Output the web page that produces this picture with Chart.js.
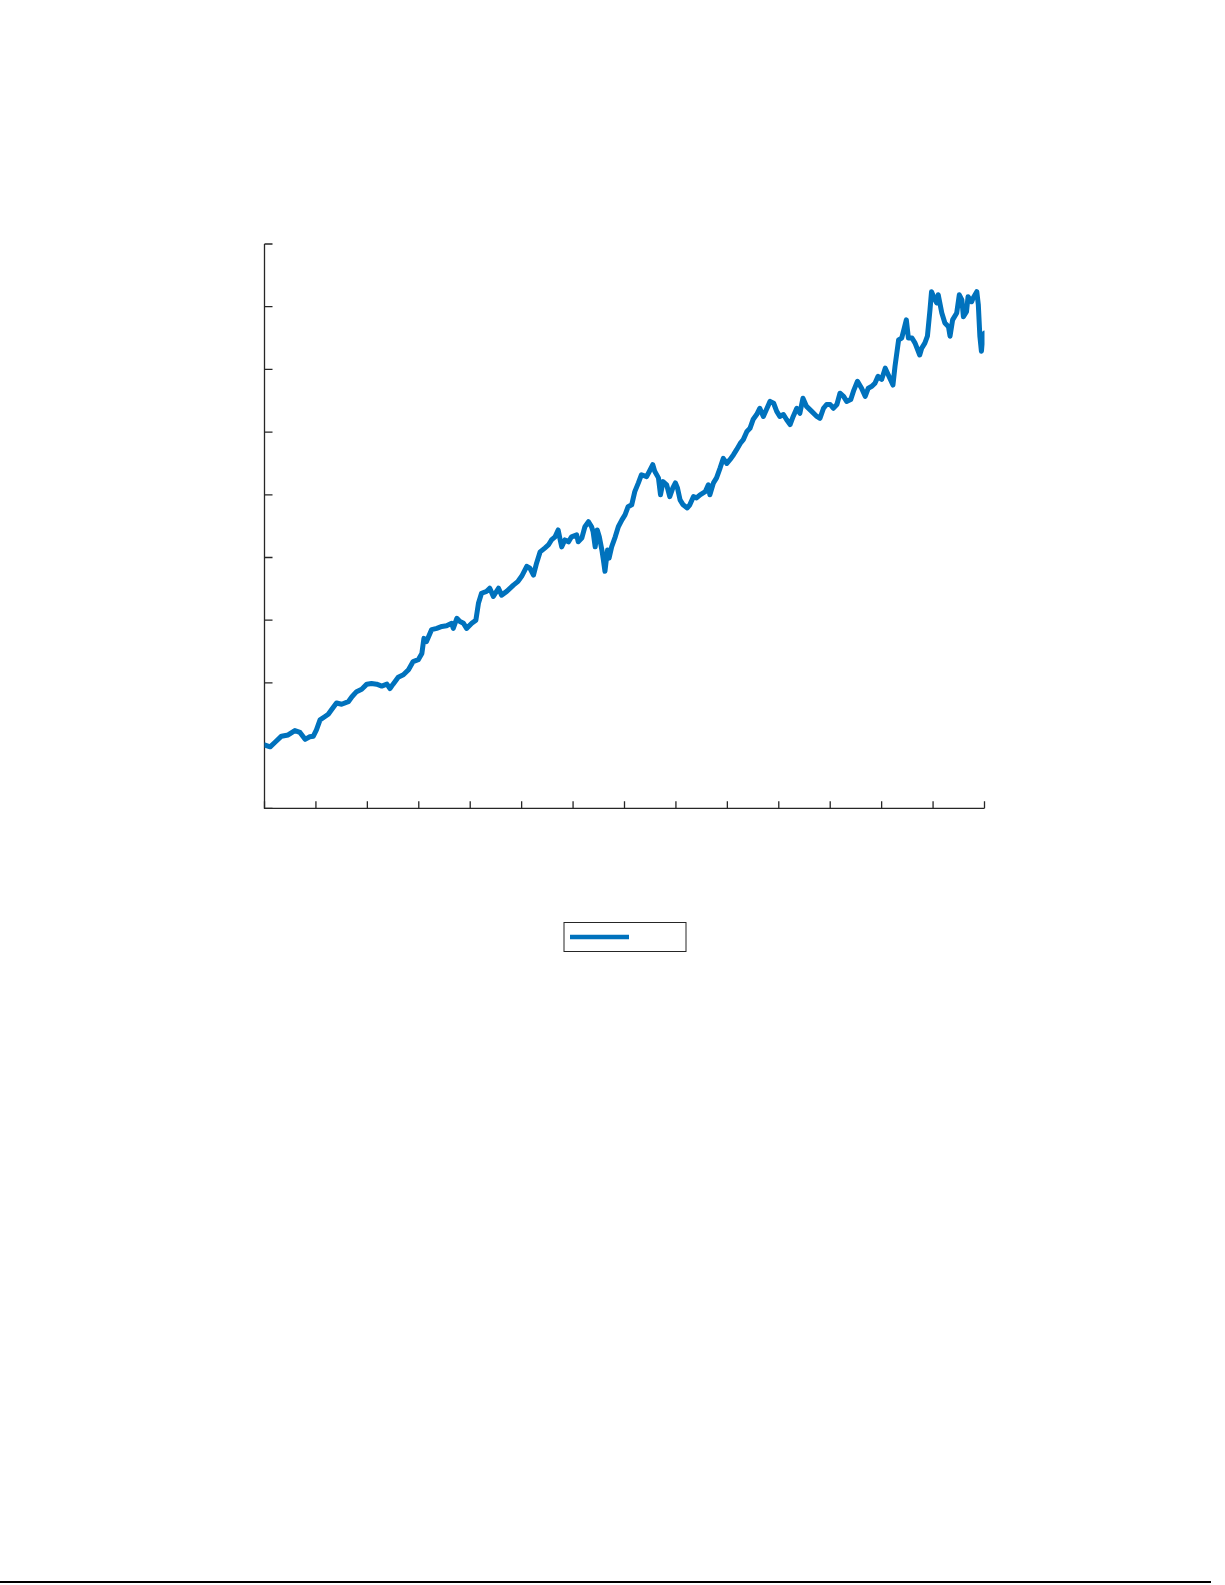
<!DOCTYPE html>
<html>
<head>
<meta charset="utf-8">
<script src="https://cdn.jsdelivr.net/npm/chart.js@4"></script>
<style>
  html, body { margin: 0; padding: 0; background: #ffffff; overflow: hidden; }
  #wrap { position: relative; width: 1225px; height: 1585px; }
  #c { position: absolute; left: 0; top: 0; }
  #rule { position: absolute; left: 0; top: 1581px; width: 1211px; height: 2px; background: #000000; }
</style>
</head>
<body>
<div id="wrap">
  <canvas id="c" width="1225" height="1585"></canvas>
  <div id="rule"></div>
</div>
<script>
// time in axis units (0..14)
var t = [
  0.00, 0.11, 0.20, 0.33, 0.46, 0.59, 0.69, 0.79, 0.88, 0.95,
  1.01, 1.08, 1.17, 1.24, 1.31, 1.40, 1.50, 1.63, 1.70, 1.79,
  1.89, 1.99, 2.08, 2.18, 2.28, 2.38, 2.44, 2.50, 2.60, 2.70,
  2.80, 2.89, 2.99, 3.06, 3.10, 3.15, 3.25, 3.35, 3.45, 3.54,
  3.64, 3.67, 3.74, 3.80, 3.87, 3.93, 4.03, 4.11, 4.16, 4.22,
  4.32, 4.38, 4.45, 4.55, 4.61, 4.71, 4.84, 4.93, 5.00, 5.10,
  5.16, 5.23, 5.29, 5.36, 5.45, 5.52, 5.58, 5.65, 5.71, 5.75,
  5.78, 5.84, 5.91, 5.97, 6.07, 6.10, 6.17, 6.23, 6.30, 6.36,
  6.39, 6.43, 6.47, 6.51, 6.56, 6.59, 6.62, 6.67, 6.70, 6.75,
  6.82, 6.88, 6.95, 7.01, 7.07, 7.14, 7.20, 7.27, 7.33, 7.43,
  7.50, 7.55, 7.59, 7.66, 7.70, 7.75, 7.82, 7.88, 7.94, 7.99,
  8.03, 8.08, 8.14, 8.22, 8.27, 8.34, 8.40, 8.47, 8.57, 8.63,
  8.66, 8.73, 8.79, 8.86, 8.92, 8.99, 9.05, 9.12, 9.18, 9.25,
  9.31, 9.38, 9.44, 9.50, 9.57, 9.63, 9.70, 9.76, 9.83, 9.90,
  9.96, 10.02, 10.09, 10.15, 10.22, 10.28, 10.35, 10.41, 10.47, 10.54,
  10.64, 10.74, 10.80, 10.87, 10.93, 11.00, 11.06, 11.13, 11.19, 11.26,
  11.32, 11.40, 11.46, 11.53, 11.61, 11.68, 11.74, 11.81, 11.87, 11.93,
  12.00, 12.07, 12.13, 12.22, 12.26, 12.33, 12.39, 12.44, 12.48, 12.52,
  12.59, 12.65, 12.74, 12.78, 12.84, 12.89, 12.94, 12.97, 13.02, 13.07,
  13.10, 13.17, 13.23, 13.30, 13.33, 13.38, 13.46, 13.51, 13.56, 13.59,
  13.65, 13.68, 13.75, 13.78, 13.85, 13.88, 13.91, 13.94, 13.97, 14.00
];

var price = [
  1.01, 0.98, 1.05, 1.15, 1.17, 1.24, 1.21, 1.10, 1.14, 1.15,
  1.25, 1.41, 1.46, 1.50, 1.58, 1.68, 1.66, 1.70, 1.78, 1.86,
  1.90, 1.98, 1.99, 1.98, 1.95, 1.98, 1.91, 1.98, 2.09, 2.13,
  2.21, 2.34, 2.37, 2.47, 2.71, 2.66, 2.85, 2.87, 2.90, 2.91,
  2.95, 2.87, 3.03, 2.98, 2.95, 2.87, 2.95, 3.00, 3.27, 3.43,
  3.46, 3.51, 3.38, 3.51, 3.40, 3.46, 3.56, 3.62, 3.70, 3.86,
  3.83, 3.72, 3.91, 4.09, 4.15, 4.20, 4.28, 4.33, 4.44, 4.28,
  4.17, 4.28, 4.25, 4.33, 4.36, 4.25, 4.31, 4.49, 4.57, 4.49,
  4.41, 4.17, 4.44, 4.33, 4.12, 3.96, 3.78, 4.12, 3.99, 4.17,
  4.33, 4.49, 4.60, 4.68, 4.81, 4.84, 5.05, 5.19, 5.32, 5.29,
  5.40, 5.48, 5.37, 5.27, 5.00, 5.21, 5.16, 4.97, 5.11, 5.19,
  5.11, 4.92, 4.84, 4.79, 4.84, 4.97, 4.95, 5.00, 5.05, 5.16,
  5.00, 5.19, 5.27, 5.43, 5.58, 5.50, 5.56, 5.64, 5.72, 5.82,
  5.88, 6.01, 6.06, 6.20, 6.28, 6.38, 6.25, 6.36, 6.49, 6.46,
  6.33, 6.25, 6.28, 6.20, 6.12, 6.25, 6.38, 6.30, 6.54, 6.41,
  6.33, 6.25, 6.22, 6.38, 6.44, 6.44, 6.38, 6.44, 6.62, 6.57,
  6.49, 6.52, 6.67, 6.81, 6.70, 6.57, 6.70, 6.73, 6.78, 6.89,
  6.84, 7.02, 6.91, 6.75, 7.05, 7.47, 7.50, 7.66, 7.79, 7.50,
  7.50, 7.42, 7.23, 7.34, 7.42, 7.53, 7.95, 8.24, 8.14, 8.06,
  8.19, 7.90, 7.74, 7.68, 7.53, 7.79, 7.90, 8.19, 8.11, 7.84,
  7.92, 8.16, 8.08, 8.14, 8.24, 8.03, 7.53, 7.29, 7.45, 7.58
];

var xTicks = [0, 1, 2, 3, 4, 5, 6, 7, 8, 9, 10, 11, 12, 13, 14];
var yTicks = [0, 1, 2, 3, 4, 5, 6, 7, 8, 9];

var lineColor = '#0072BD';
var axisColor = '#262626';

var points = [];
for (var i = 0; i < price.length; i++) {
    points.push({x: t[i], y: price[i]});
}

// matlab style axes: left + bottom only, ticks pointing in
var axesPlugin = {
    id: 'axesPlugin',
    beforeDatasetsDraw: function(chart) {
        var ctx = chart.ctx;
        var xs = chart.scales.x;
        var ys = chart.scales.y;
        var left = xs.getPixelForValue(xTicks[0]);
        var right = xs.getPixelForValue(xTicks[xTicks.length - 1]);
        var bottom = ys.getPixelForValue(yTicks[0]);
        var top = ys.getPixelForValue(yTicks[yTicks.length - 1]);
        ctx.save();
        ctx.strokeStyle = axisColor;
        ctx.lineWidth = 1.3;
        ctx.beginPath();
        ctx.moveTo(left, top);
        ctx.lineTo(left, bottom);
        ctx.lineTo(right, bottom);
        ctx.stroke();
        ctx.beginPath();
        yTicks.forEach(function(v) {
            var py = ys.getPixelForValue(v);
            ctx.moveTo(left, py);
            ctx.lineTo(left + 8, py);
        });
        xTicks.forEach(function(v) {
            var px = xs.getPixelForValue(v);
            ctx.moveTo(px, bottom);
            ctx.lineTo(px, bottom - 7);
        });
        ctx.stroke();
        ctx.restore();
    },
    afterDraw: function(chart) {
        // legend box with only the line sample
        var ctx = chart.ctx;
        var ds = chart.data.datasets[0];
        ctx.save();
        ctx.fillStyle = '#ffffff';
        ctx.fillRect(564, 922.5, 122, 29);
        ctx.strokeStyle = axisColor;
        ctx.lineWidth = 1;
        ctx.strokeRect(564, 922.5, 122, 29);
        ctx.strokeStyle = ds.borderColor;
        ctx.lineWidth = 4.5;
        ctx.beginPath();
        ctx.moveTo(570, 937);
        ctx.lineTo(629, 937);
        ctx.stroke();
        ctx.restore();
    }
};

var ctx = document.getElementById('c').getContext('2d');
window.chart = new Chart(ctx, {
    type: 'line',
    data: {
        datasets: [{
            label: '',
            data: points,
            borderColor: lineColor,
            backgroundColor: lineColor,
            borderWidth: 5,
            borderJoinStyle: 'round',
            borderCapStyle: 'round',
            pointRadius: 0,
            tension: 0,
            fill: false
        }]
    },
    options: {
        responsive: false,
        animation: false,
        layout: {
            padding: {left: 264.5, top: 244, right: 240.5, bottom: 776.7}
        },
        plugins: {
            legend: {display: false},
            tooltip: {enabled: false}
        },
        scales: {
            x: {type: 'linear', display: false, min: 0, max: 14},
            y: {type: 'linear', display: false, min: 0, max: 9}
        }
    },
    plugins: [axesPlugin]
});
</script>
</body>
</html>
